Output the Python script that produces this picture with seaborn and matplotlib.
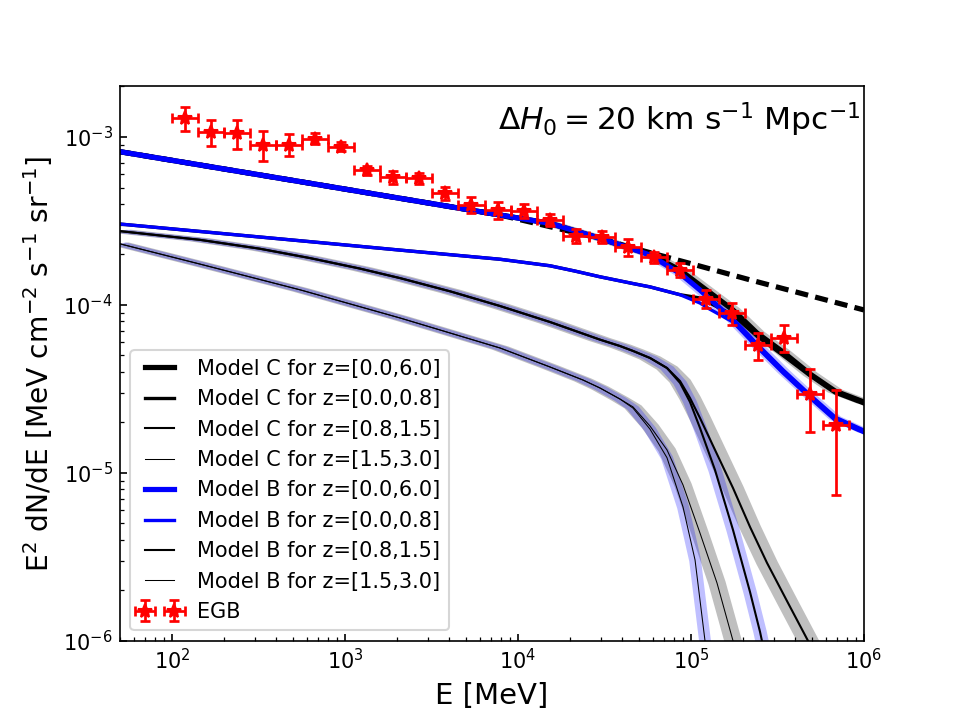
import numpy as np
import matplotlib
matplotlib.use('Agg')
import matplotlib.pyplot as plt
import seaborn as sns

# EGB (Fermi-LAT)
egb_E = [119, 168, 238, 336, 476, 673, 951, 1345, 1903, 2691, 3805, 5382, 7611,
         10763, 15221, 21526, 30443, 43053, 60886, 86105, 121770, 172210,
         243540, 344410, 487070, 688810]
egb_edges = [100, 141, 200, 283, 400, 566, 800, 1131, 1600, 2263, 3200, 4525, 6400,
             9051, 12800, 18102, 25600, 36204, 51200, 72408, 102400, 144815, 204800,
             289631, 409600, 579262, 819200]
egb_F = [1.29e-3, 1.07e-3, 1.05e-3, 8.96e-4, 8.96e-4, 9.68e-4, 8.75e-4, 6.36e-4,
         5.75e-4, 5.67e-4, 4.62e-4, 3.93e-4, 3.67e-4, 3.64e-4, 3.20e-4, 2.57e-4,
         2.53e-4, 2.22e-4, 1.92e-4, 1.61e-4, 1.09e-4, 8.91e-5, 5.77e-5, 6.32e-5,
         2.95e-5, 1.93e-5]
egb_F_hi = [1.51e-3, 1.26e-3, 1.26e-3, 1.09e-3, 1.04e-3, 1.05e-3, 9.37e-4, 6.74e-4,
            6.30e-4, 6.10e-4, 5.06e-4, 4.37e-4, 4.10e-4, 4.00e-4, 3.48e-4, 2.82e-4,
            2.76e-4, 2.46e-4, 2.07e-4, 1.77e-4, 1.23e-4, 1.03e-4, 6.78e-5, 7.59e-5,
            4.14e-5, 3.11e-5]
egb_F_lo = [1.09e-3, 8.87e-4, 8.44e-4, 7.22e-4, 7.70e-4, 9.08e-4, 8.28e-4, 5.96e-4,
            5.25e-4, 5.25e-4, 4.21e-4, 3.51e-4, 3.23e-4, 3.30e-4, 2.95e-4, 2.35e-4,
            2.34e-4, 1.95e-4, 1.77e-4, 1.47e-4, 9.54e-5, 7.59e-5, 4.70e-5, 5.27e-5,
            1.76e-5, 7.38e-6]

# bez absorpcie (dashed)
dash_E = [50, 627, 7870, 29780, 46200, 100000, 219000, 1000000]
dash_F = [8.17e-4, 5.30e-4, 3.43e-4, 2.49e-4, 2.18e-4, 1.76e-4, 1.41e-4, 9.33e-5]

# Model C
c06_E = [50, 627, 7870, 15300, 29780, 46200, 57940, 86400, 112700, 174900, 240700,
         340300, 487400, 679900, 1000000]
c06_F = [8.17e-4, 5.30e-4, 3.43e-4, 3.06e-4, 2.49e-4, 2.15e-4, 2.01e-4, 1.61e-4, 1.31e-4,
         9.33e-5, 6.80e-5, 5.24e-5, 3.88e-5, 3.07e-5, 2.64e-5]
c008_E = [50, 627, 2078, 7867, 15300, 21350, 29780, 46200, 57940, 86400, 112700, 174900,
          240700, 340300, 487400, 679900, 1000000]
c008_F = [3.03e-4, 2.38e-4, 2.12e-4, 1.87e-4, 1.71e-4, 1.59e-4, 1.47e-4, 1.34e-4, 1.28e-4,
          1.15e-4, 1.10e-4, 8.70e-5, 6.50e-5, 5.00e-5, 3.78e-5, 2.99e-5, 2.57e-5]
c0815_E = [50, 145, 322, 627, 1220, 2078, 4045, 7867, 15300, 29780, 38860, 46200, 57940,
           72630, 86400, 98670, 112700, 137600, 174900, 219400, 275000, 363700, 474600,
           636000]
c0815_F = [2.75e-4, 2.44e-4, 2.16e-4, 1.90e-4, 1.645e-4, 1.444e-4, 1.205e-4, 9.85e-5,
           7.91e-5, 6.21e-5, 5.69e-5, 5.32e-5, 4.83e-5, 4.21e-5, 3.52e-5, 2.79e-5,
           2.12e-5, 1.37e-5, 8.12e-6, 4.76e-6, 2.91e-6, 1.68e-6, 1.0e-6, 5.8e-7]
c1530_E = [50, 145, 549, 2078, 7867, 15300, 23750, 29780, 38860, 46200, 57940, 72630,
           89900, 112700, 141300, 174900, 205300]
c1530_F = [2.31e-4, 1.75e-4, 1.23e-4, 8.36e-5, 5.54e-5, 4.27e-5, 3.57e-5, 3.20e-5, 2.75e-5,
           2.47e-5, 1.90e-5, 1.37e-5, 8.47e-6, 4.38e-6, 2.21e-6, 1.0e-6, 5.8e-7]

# Model B
b06_E = [50, 627, 7870, 15300, 29780, 46200, 57940, 86400, 112700, 174900, 240700,
         340300, 487400, 679900, 1000000]
b06_F = [8.17e-4, 5.30e-4, 3.43e-4, 3.06e-4, 2.49e-4, 2.15e-4, 1.98e-4, 1.54e-4, 1.226e-4,
         8.13e-5, 5.77e-5, 4.04e-5, 2.87e-5, 2.12e-5, 1.77e-5]
b008_E = [50, 627, 2078, 7867, 15300, 21350, 29780, 46200, 57940, 86400, 112700, 128000,
          174900, 240700, 340300, 487400, 679900, 1000000]
b008_F = [3.03e-4, 2.38e-4, 2.12e-4, 1.87e-4, 1.71e-4, 1.59e-4, 1.47e-4, 1.34e-4, 1.28e-4,
          1.15e-4, 1.026e-4, 9.45e-5, 7.91e-5, 5.60e-5, 3.93e-5, 2.79e-5, 2.06e-5, 1.73e-5]
b0815_E = [50, 145, 322, 627, 1220, 2078, 4045, 7867, 15300, 29780, 38860, 46200, 57940,
           72630, 86400, 98670, 112700, 137600, 174900, 219400, 250600, 267800]
b0815_F = [2.75e-4, 2.44e-4, 2.16e-4, 1.90e-4, 1.645e-4, 1.444e-4, 1.205e-4, 9.85e-5,
           7.91e-5, 6.21e-5, 5.69e-5, 5.32e-5, 4.83e-5, 4.21e-5, 3.43e-5, 2.64e-5,
           1.85e-5, 1.04e-5, 4.57e-6, 1.95e-6, 1.13e-6, 8.2e-7]
b1530_E = [50, 145, 549, 2078, 7867, 15300, 23750, 29780, 38860, 46200, 57940, 72630,
           89900, 105500, 120460, 128800]
b1530_F = [2.31e-4, 1.75e-4, 1.23e-4, 8.36e-5, 5.54e-5, 4.27e-5, 3.57e-5, 3.20e-5, 2.75e-5,
           2.43e-5, 1.82e-5, 1.23e-5, 6.26e-6, 3.03e-6, 1.0e-6, 5.8e-7]


def band(ax, E, F, k, color, alpha):
    E = np.asarray(E, float)
    F = np.asarray(F, float)
    xs = np.concatenate([E * k, (E / k)[::-1]])
    ys = np.concatenate([F * 1.02, (F / 1.02)[::-1]])
    ax.fill(xs, ys, color=color, alpha=alpha, lw=0)


fig, ax = plt.subplots(figsize=(6.4, 4.8), dpi=150)

sns.lineplot(x=dash_E, y=dash_F, ax=ax, color='k', lw=2.5, linestyle='--')
ax.lines[-1].set_dashes((2.5, 1.4))

sns.lineplot(x=c06_E, y=c06_F, ax=ax, color='k', lw=2.5, label='Model C for z=[0.0,6.0]')
sns.lineplot(x=c008_E, y=c008_F, ax=ax, color='k', lw=1.6, label='Model C for z=[0.0,0.8]')
sns.lineplot(x=c0815_E, y=c0815_F, ax=ax, color='k', lw=1.0, label='Model C for z=[0.8,1.5]')
sns.lineplot(x=c1530_E, y=c1530_F, ax=ax, color='k', lw=0.5, label='Model C for z=[1.5,3.0]')
band(ax, c06_E, c06_F, 1.10, 'grey', 0.5)
band(ax, c0815_E, c0815_F, 1.15, 'grey', 0.5)
band(ax, c1530_E, c1530_F, 1.12, 'grey', 0.5)

sns.lineplot(x=b06_E, y=b06_F, ax=ax, color='b', lw=2.5, label='Model B for z=[0.0,6.0]')
sns.lineplot(x=b008_E, y=b008_F, ax=ax, color='b', lw=1.6, label='Model B for z=[0.0,0.8]')
sns.lineplot(x=b0815_E, y=b0815_F, ax=ax, color='k', lw=1.0, label='Model B for z=[0.8,1.5]')
sns.lineplot(x=b1530_E, y=b1530_F, ax=ax, color='k', lw=0.5, label='Model B for z=[1.5,3.0]')
band(ax, b06_E, b06_F, 1.08, 'b', 0.25)
band(ax, b0815_E, b0815_F, 1.09, 'b', 0.25)
band(ax, b1530_E, b1530_F, 1.08, 'b', 0.25)

E = np.array(egb_E)
lo = np.array(egb_edges[:-1])
hi = np.array(egb_edges[1:])
F = np.array(egb_F)
ax.errorbar(E, F, xerr=[E - lo, hi - E],
            yerr=[F - np.array(egb_F_lo), np.array(egb_F_hi) - F],
            fmt='*', color='r', ms=7, elinewidth=1.3, capsize=2.5, capthick=1.3,
            label='EGB', zorder=10)

ax.set_xscale('log')
ax.set_yscale('log')
ax.set_xlim(50, 1e6)
ax.set_ylim(1e-6, 2e-3)
ax.tick_params(which='both', direction='in')
ax.set_xlabel('E [MeV]', fontsize=14)
ax.set_ylabel(r'E$^2$ dN/dE [MeV cm$^{-2}$ s$^{-1}$ sr$^{-1}$]', fontsize=13.5)
ax.text(0.995, 0.94, r'$\Delta H_0 = 20$ km s$^{-1}$ Mpc$^{-1}$', transform=ax.transAxes,
        ha='right', va='center', fontsize=15)
ax.legend(loc='lower left', numpoints=2, fontsize=10)

fig.savefig('out.png', dpi=150)
